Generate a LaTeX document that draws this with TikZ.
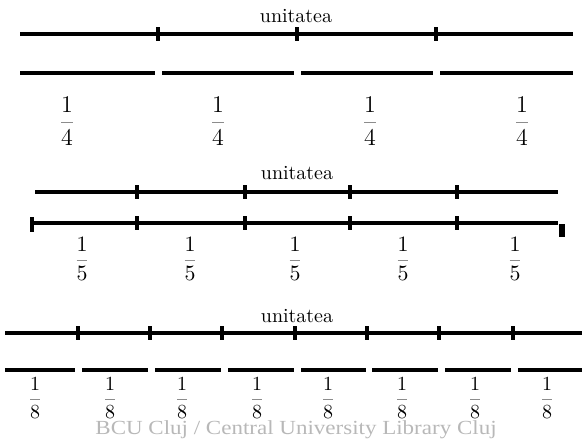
\documentclass[tikz,border=0pt]{standalone}
\usepackage{fontspec}
\newfontfamily\wmfont{Liberation Serif}
\newcommand{\myfrac}[1]{{\color{black!45}$\displaystyle\frac{\color{black}1}{\color{black}#1}$}}
\begin{document}
\begin{tikzpicture}[x=0.5pt,y=-0.5pt,
  seg/.style={line width=1.7pt},
  tickmark/.style={line width=2.3pt},
  lbl/.style={font=\fontsize{10}{12}\selectfont, inner sep=0pt},
  frc/.style={font=\fontsize{11}{13}\selectfont, inner sep=0pt},
  frcsmall/.style={font=\fontsize{10.2}{12}\selectfont, inner sep=0pt},
  frcbig/.style={font=\fontsize{12}{14}\selectfont, inner sep=0pt},
  wm/.style={font=\wmfont\fontsize{10}{12}\selectfont, text=black!28, inner sep=0pt, anchor=base, xscale=1.15}]
\useasboundingbox (0,0) rectangle (582,440);
% ---------- section 1: quarters ----------
\node[lbl] (u1) at (296,16) {unitatea};
\coordinate (a1) at (20,34); \coordinate (b1) at (573,34);
\draw[seg] (a1) -- (b1);
\foreach \x in {158,297,436} \draw[tickmark] (\x,27) -- (\x,41);
\foreach \a/\b in {20/155,162/294,301/433,440/573} \draw[seg] (\a,73) -- (\b,73);
\foreach \x [count=\i] in {67,218,370,522} \node[frcbig] (q\i) at (\x,121) {\myfrac{4}};
% ---------- section 2: fifths ----------
\node[lbl] (u2) at (297,173) {unitatea};
\coordinate (a2) at (35,192); \coordinate (b2) at (558,192);
\draw[seg] (a2) -- (b2);
\foreach \x in {137,245,350,457} \draw[tickmark] (\x,185) -- (\x,199);
\coordinate (c2) at (32,223); \coordinate (d2) at (558,223);
\draw[seg] (c2) -- (d2);
\draw[tickmark] (32,217) -- (32,232);
\foreach \x in {137,245,350,457} \draw[tickmark] (\x,216) -- (\x,230);
\draw[line width=2.6pt] (562,224) -- (562,237);
\foreach \x [count=\i] in {82,190,295,403,515} \node[frc] (v\i) at (\x,259) {\myfrac{5}};
% ---------- section 3: eighths ----------
\node[lbl] (u3) at (297,316) {unitatea};
\coordinate (a3) at (5,333); \coordinate (b3) at (582,333);
\draw[seg] (a3) -- (b3);
\foreach \x in {78,150,222,295,367,439,513} \draw[tickmark] (\x,326) -- (\x,340);
\foreach \a/\b in {5/75,82/148,155/221,228/294,301/366,372/438,445/511,518/582} \draw[seg] (\a,370) -- (\b,370);
\foreach \x [count=\i] in {35,110,182,257,328,402,475,547} \node[frcsmall] (e\i) at (\x,398) {\myfrac{8}};
% ---------- watermark ----------
\node[wm] (w) at (296,434) {BCU Cluj / Central University Library Cluj};
\end{tikzpicture}
\end{document}
